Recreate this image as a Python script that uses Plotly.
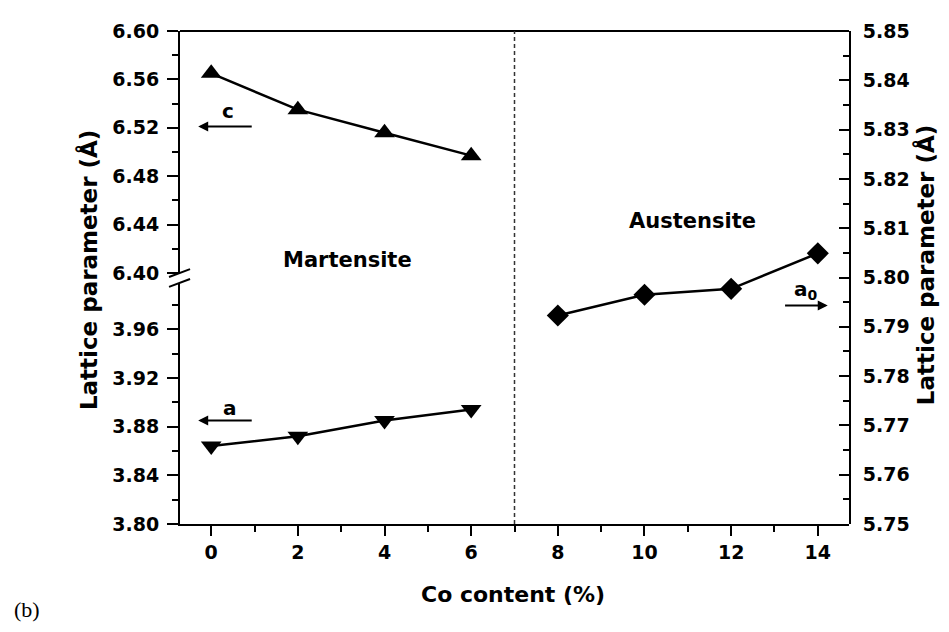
import plotly.graph_objects as go

# ---- data ----
co_mart = [0, 2, 4, 6]
c_vals = [6.565, 6.535, 6.516, 6.497]
a_vals = [3.864, 3.872, 3.885, 3.894]
co_aust = [8, 10, 12, 14]
a0_vals = [5.7923, 5.7965, 5.7977, 5.8049]
x_ticks = [0, 2, 4, 6, 8, 10, 12, 14]

FONT = "DejaVu Sans"
BLACK = "black"

fig = go.Figure()

line_style = dict(color=BLACK, width=2.5)
fig.add_trace(go.Scatter(x=co_mart, y=c_vals, mode="lines+markers", xaxis="x", yaxis="y2",
                         line=line_style, marker=dict(symbol="triangle-up", size=18, color=BLACK),
                         showlegend=False))
fig.add_trace(go.Scatter(x=co_mart, y=a_vals, mode="lines+markers", xaxis="x", yaxis="y",
                         line=line_style, marker=dict(symbol="triangle-down", size=18, color=BLACK),
                         showlegend=False))
fig.add_trace(go.Scatter(x=co_aust, y=a0_vals, mode="lines+markers", xaxis="x", yaxis="y3",
                         line=line_style, marker=dict(symbol="diamond", size=17, color=BLACK),
                         showlegend=False))

tickfont = dict(family=FONT, size=19, color=BLACK, weight="bold")
common_y = dict(showline=True, linewidth=2, linecolor=BLACK, ticks="outside", ticklen=11,
                tickwidth=2, tickcolor=BLACK, showgrid=False, zeroline=False,
                tickfont=tickfont, tickformat=".2f", ticklabelstandoff=4)

# page has an 8px body margin -> figure sized to fit the 949x632 window
fig.update_layout(
    width=933, height=616,
    margin=dict(l=172, r=92, t=17, b=100),
    paper_bgcolor="white", plot_bgcolor="rgba(0,0,0,0)",
    xaxis=dict(domain=[0, 1], anchor="y", range=[-0.72, 14.72], tickvals=x_ticks,
               showline=True, linewidth=2, linecolor=BLACK, ticks="outside", ticklen=10,
               tickwidth=2, tickcolor=BLACK, showgrid=False, zeroline=False, tickfont=tickfont,
               minor=dict(ticks="outside", ticklen=6, tickwidth=2, tickcolor=BLACK, dtick=1, tick0=0)),
    yaxis=dict(domain=[0, 0.489], anchor="x", range=[3.80, 3.998], tick0=3.80, dtick=0.04,
               minor=dict(ticks="outside", ticklen=6, tickwidth=2, tickcolor=BLACK, dtick=0.02, tick0=3.80),
               **common_y),
    yaxis2=dict(domain=[0.509, 1], anchor="x", range=[6.40, 6.60], tick0=6.40, dtick=0.04,
                minor=dict(ticks="outside", ticklen=6, tickwidth=2, tickcolor=BLACK, dtick=0.02, tick0=6.40),
                **common_y),
    yaxis3=dict(domain=[0, 1], anchor="x", side="right", range=[5.75, 5.85], tick0=5.75, dtick=0.01,
                showline=True, linewidth=2, linecolor=BLACK, ticks="inside", ticklen=10,
                tickwidth=2, tickcolor=BLACK, showgrid=False, zeroline=False, tickfont=tickfont,
                tickformat=".2f", ticklabelstandoff=8,
                minor=dict(ticks="inside", ticklen=6, tickwidth=2, tickcolor=BLACK, dtick=0.005, tick0=5.75)),
    showlegend=False,
)

# frame top line, dashed separator, axis break marks
fig.add_shape(type="line", xref="paper", yref="paper", x0=0, x1=1, y0=1, y1=1,
              line=dict(color=BLACK, width=2))
fig.add_shape(type="line", xref="x", yref="paper", x0=7, x1=7, y0=0, y1=1,
              line=dict(color="#333333", width=1.5, dash="4px,3px"))
fig.add_shape(type="line", xref="paper", yref="paper", x0=-0.0164, x1=0.0150, y0=0.501, y1=0.517,
              line=dict(color=BLACK, width=2))
fig.add_shape(type="line", xref="paper", yref="paper", x0=-0.0164, x1=0.0150, y0=0.481, y1=0.497,
              line=dict(color=BLACK, width=2))

lab = dict(family=FONT, size=20, color=BLACK, weight="bold")
phase = dict(family=FONT, size=21, color=BLACK, weight="bold")
ann = []
# arrows
ann.append(dict(x=-0.30, y=6.521, ax=0.97, ay=6.521, xref="x", yref="y2", axref="x", ayref="y2",
                text="", showarrow=True, arrowhead=2, arrowsize=1, arrowwidth=2, arrowcolor=BLACK))
ann.append(dict(x=-0.30, y=3.885, ax=0.97, ay=3.885, xref="x", yref="y", axref="x", ayref="y",
                text="", showarrow=True, arrowhead=2, arrowsize=1, arrowwidth=2, arrowcolor=BLACK))
ann.append(dict(x=14.23, y=5.7943, ax=13.21, ay=5.7943, xref="x", yref="y3", axref="x", ayref="y3",
                text="", showarrow=True, arrowhead=2, arrowsize=1, arrowwidth=2, arrowcolor=BLACK))
# arrow labels
ann.append(dict(x=0.39, y=6.534, xref="x", yref="y2", text="c", showarrow=False, font=lab))
ann.append(dict(x=0.44, y=3.895, xref="x", yref="y", text="a", showarrow=False, font=lab))
ann.append(dict(x=13.72, y=5.7975, xref="x", yref="y3", text="a<sub>0</sub>", showarrow=False, font=lab))
# phase labels
ann.append(dict(x=3.15, y=6.411, xref="x", yref="y2", text="Martensite", showarrow=False, font=phase))
ann.append(dict(x=11.1, y=5.8115, xref="x", yref="y3", text="Austensite", showarrow=False, font=phase))
# axis titles
title_font = dict(family=FONT, size=23, color=BLACK, weight="bold")
ann.append(dict(x=-0.1375, y=0.515, xref="paper", yref="paper", text="Lattice parameter (Å)",
                textangle=-90, xanchor="center", yanchor="middle", showarrow=False, font=title_font))
ann.append(dict(x=1.1136, y=0.525, xref="paper", yref="paper", text="Lattice parameter (Å)",
                textangle=-90, xanchor="center", yanchor="middle", showarrow=False, font=title_font))
ann.append(dict(x=0.498, y=-0.144, xref="paper", yref="paper", text="Co content (%)",
                xanchor="center", yanchor="middle", showarrow=False,
                font=dict(family=FONT, size=22, color=BLACK, weight="bold")))
ann.append(dict(x=-0.229, y=-0.174, xref="paper", yref="paper", text="(b)", showarrow=False,
                xanchor="center", yanchor="middle",
                font=dict(family="Liberation Serif", size=22, color=BLACK)))
fig.update_layout(annotations=ann)

fig.write_html("out.html")
